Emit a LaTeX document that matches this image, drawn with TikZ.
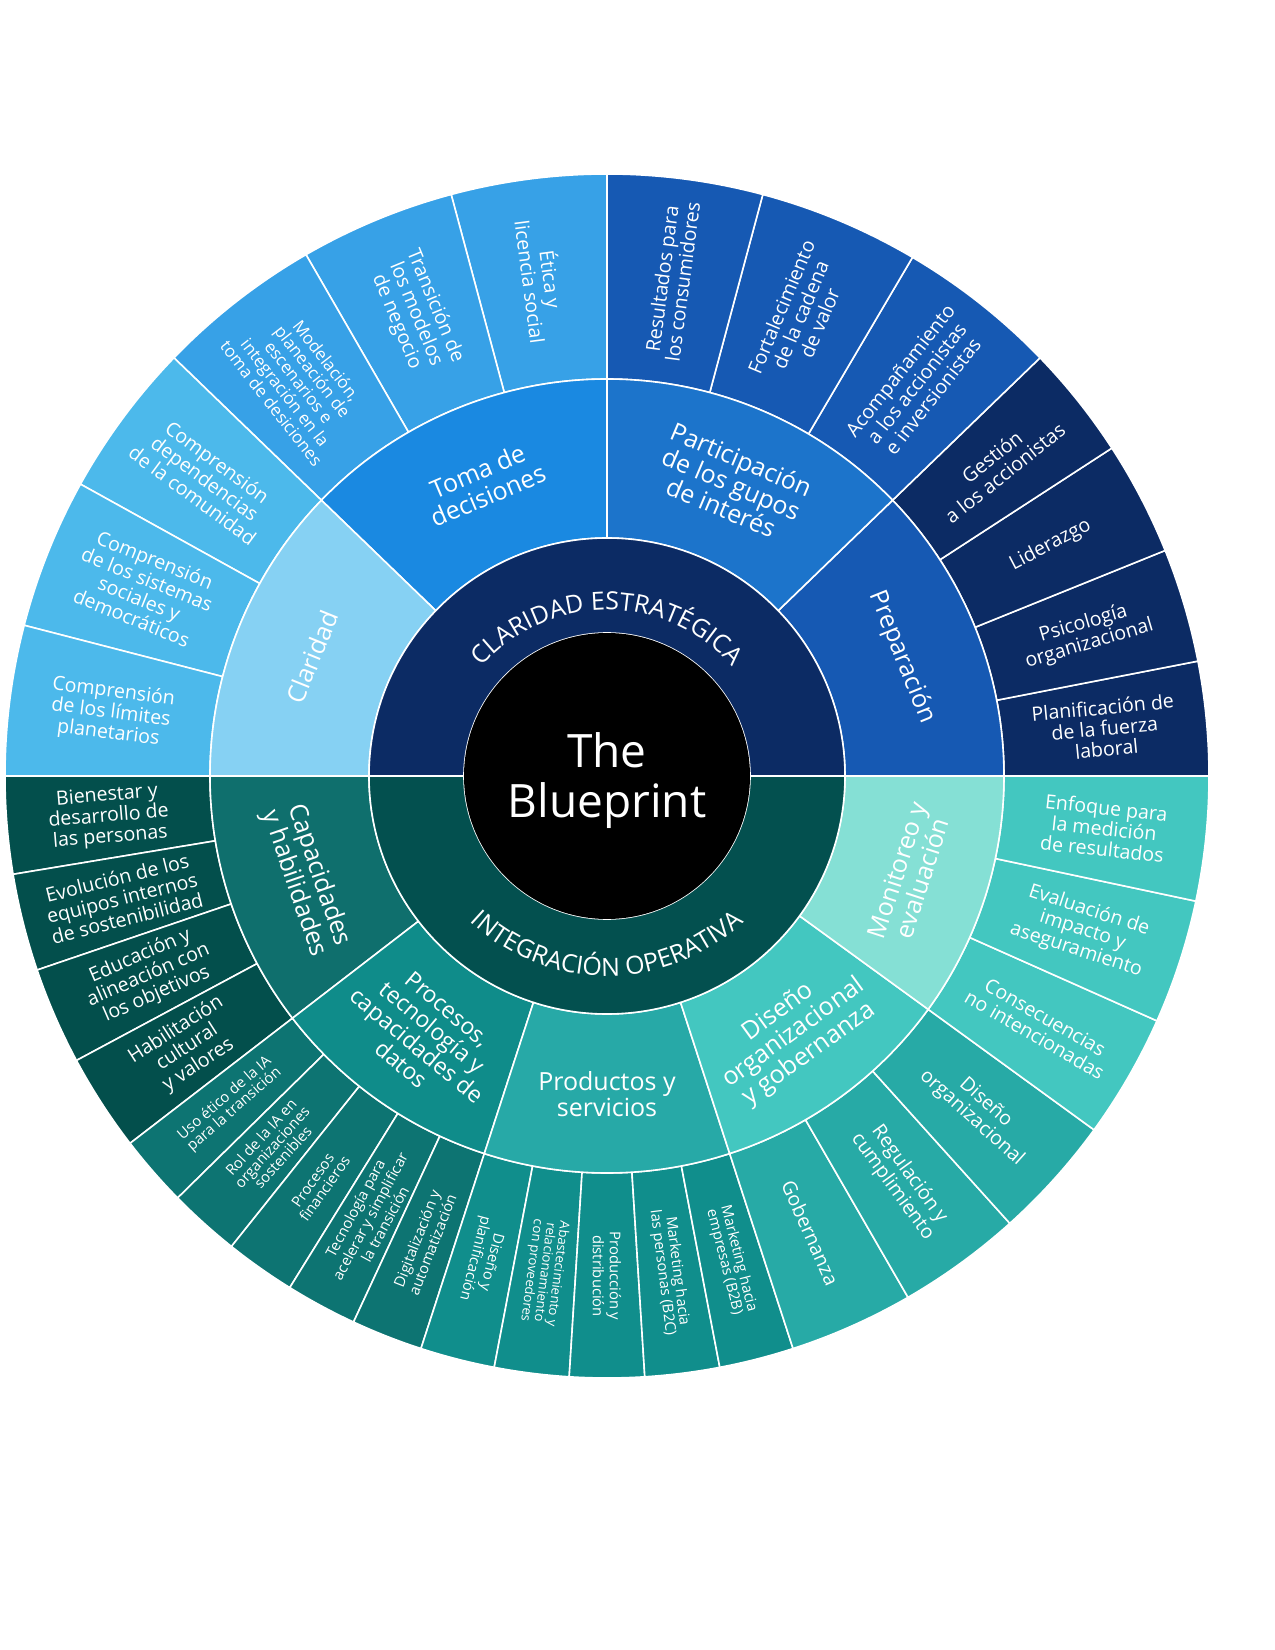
\documentclass[tikz,border=0pt]{standalone}
\usepackage{fontspec}
\setmainfont{Open Sans}
\usetikzlibrary{decorations.text}
\definecolor{navy}{HTML}{0C2B64}
\definecolor{tealdk}{HTML}{03504F}
\definecolor{clarL}{HTML}{86D1F3}\definecolor{clarC}{HTML}{4CB9EB}
\definecolor{tomaM}{HTML}{1A89E1}\definecolor{tomaC}{HTML}{37A1E7}
\definecolor{partM}{HTML}{1C74CB}\definecolor{partC}{HTML}{1659B3}
\definecolor{prepM}{HTML}{1659B3}\definecolor{prepC}{HTML}{0C2B64}
\definecolor{capM}{HTML}{0F6F6D}\definecolor{capC}{HTML}{034F4C}
\definecolor{procM}{HTML}{0F8C8A}\definecolor{procC}{HTML}{0D7472}
\definecolor{prodM}{HTML}{27A9A7}\definecolor{prodC}{HTML}{108E8C}
\definecolor{disM}{HTML}{43C7C0}\definecolor{disC}{HTML}{27AAA6}
\definecolor{monM}{HTML}{85E0D5}\definecolor{monC}{HTML}{43C7C0}
\newcommand\wedgeseg[5]{\fill[#1,draw=white,line width=0.8pt] (#2:#4) arc[start angle=#2,end angle=#3,radius=#4] -- (#3:#5) arc[start angle=#3,end angle=#2,radius=#5] -- cycle;}
\tikzset{
 lab/.style={text=white,align=center,inner sep=0pt},
 ot/.style={lab,font=\fontsize{9.8}{10.4}\selectfont},
 os/.style={lab,font=\fontsize{7.4}{7.4}\selectfont},
 mt/.style={lab,font=\fontsize{12.5}{13}\selectfont},
}
\begin{document}
\begin{tikzpicture}[x=0.5pt,y=0.5pt]
\useasboundingbox (-607,-874) rectangle (668,776);
\fill[white] (-607,-874) rectangle (668,776);
% outer ring
\foreach \a/\b in {0/11,11/22,22/33,33/44}{\wedgeseg{prepC}{\a}{\b}{397}{602}}
\foreach \a/\b in {44/59.5,59.5/75,75/90}{\wedgeseg{partC}{\a}{\b}{397}{602}}
\foreach \a/\b in {90/105,105/120,120/136}{\wedgeseg{tomaC}{\a}{\b}{397}{602}}
\foreach \a/\b in {136/151,151/165.5,165.5/180}{\wedgeseg{clarC}{\a}{\b}{397}{602}}
\foreach \a/\b in {180/189.4,189.4/198.8,198.8/208.2,208.2/217.6}{\wedgeseg{capC}{\a}{\b}{397}{602}}
\foreach \a/\b in {217.6/224.5,224.5/231.4,231.4/238.2,238.2/245.1,245.1/252}{\wedgeseg{procC}{\a}{\b}{397}{602}}
\foreach \a/\b in {252/259.2,259.2/266.4,266.4/273.6,273.6/280.8,280.8/288}{\wedgeseg{prodC}{\a}{\b}{397}{602}}
\foreach \a/\b in {288/300,300/312,312/324}{\wedgeseg{disC}{\a}{\b}{397}{602}}
\foreach \a/\b in {324/336,336/348,348/360}{\wedgeseg{monC}{\a}{\b}{397}{602}}
% middle ring
\wedgeseg{prepM}{0}{44}{238}{397}
\wedgeseg{partM}{44}{90}{238}{397}
\wedgeseg{tomaM}{90}{136}{238}{397}
\wedgeseg{clarL}{136}{180}{238}{397}
\wedgeseg{capM}{180}{217.6}{238}{397}
\wedgeseg{procM}{217.6}{252}{238}{397}
\wedgeseg{prodM}{252}{288}{238}{397}
\wedgeseg{disM}{288}{324}{238}{397}
\wedgeseg{monM}{324}{360}{238}{397}
% inner ring
\wedgeseg{navy}{0}{180}{143}{238}
\wedgeseg{tealdk}{180}{360}{143}{238}
\fill[black] (0,0) circle (143);
\node[lab,font=\fontsize{23}{25}\selectfont] (center) at (0,-5) {The\\Blueprint};
\path[decorate,decoration={text along path,text align=center,
 text={|\color{white}\fontsize{12.5}{12.5}\selectfont|CLARIDAD ESTRATÉGICA}}]
 (160:166) arc[start angle=160,end angle=20,radius=166];
\path[decorate,decoration={text along path,text align=center,
 text={|\color{white}\fontsize{12.5}{12.5}\selectfont|INTEGRACIÓN OPERATIVA}}]
 (200:200) arc[start angle=200,end angle=340,radius=200];
% middle labels
\node[mt,rotate=68] (m1) at (158:318) {Claridad};
\node[mt,rotate=23] (m2) at (113:318) {Toma de\\decisiones};
\node[mt,rotate=-23] (m3) at (67:318) {Participación\\de los gupos\\de interés};
\node[mt,rotate=-68] (m4) at (22:318) {Preparación};
\node[mt,rotate=-71] (m5) at (199:318) {Capacidades\\y habilidades};
\node[mt,rotate=-40,font=\fontsize{11.5}{12}\selectfont] (m6) at (235:318) {Procesos,\\tecnología y\\capacidades de\\datos};
\node[mt] (m7) at (270:318) {Productos y\\servicios};
\node[mt,rotate=36] (m8) at (306:318) {Diseño\\organizacional\\y gobernanza};
\node[mt,rotate=72] (m9) at (342:318) {Monitoreo y\\evaluación};
% outer labels
\node[ot,rotate=5.5] at (5.5:500) {Planificación de\\de la fuerza\\laboral};
\node[ot,rotate=16.5] at (16.5:500) {Psicología\\organizacional};
\node[ot,rotate=27.5] at (27.5:500) {Liderazgo};
\node[ot,rotate=38.5] at (38.5:500) {Gestión\\a los accionistas};
\node[ot,rotate=51.75] at (51.75:500) {Acompañamiento\\a los accionistas\\e inversionistas};
\node[ot,rotate=67.25] at (67.25:500) {Fortalecimiento\\de la cadena\\de valor};
\node[ot,rotate=82.5] at (82.5:500) {Resultados para\\los consumidores};
\node[ot,rotate=-82.5] at (97.5:500) {Ética y\\licencia social};
\node[ot,rotate=-67.5] at (112.5:500) {Transición de\\los modelos\\de negocio};
\node[ot,rotate=-52,font=\fontsize{8.5}{8.7}\selectfont] at (128:500) {Modelación,\\planeación de\\escenarios e\\integración en la\\toma de desiciones};
\node[ot,rotate=-36.5] at (143.5:500) {Comprensión\\dependencias\\de la comunidad};
\node[ot,rotate=-22] at (158:500) {Comprensión\\de los sistemas\\sociales y\\democráticos};
\node[ot,rotate=-7.25] at (172.75:500) {Comprensión\\de los límites\\planetarios};
\node[ot,rotate=4.7] at (184.7:500) {Bienestar y\\desarrollo de\\las personas};
\node[ot,rotate=14.1] at (194.1:500) {Evolución de los\\equipos internos\\de sostenibilidad};
\node[ot,rotate=23.5] at (203.5:500) {Educación y\\alineación con\\los objetivos};
\node[ot,rotate=32.9] at (212.9:500) {Habilitación\\cultural\\y valores};
\node[os,rotate=41] at (221:500) {Uso ético de la IA\\para la transición};
\node[os,rotate=47.9] at (227.9:500) {Rol de la IA en\\organizaciones\\sostenibles};
\node[os,rotate=54.8] at (234.8:500) {Procesos\\financieros};
\node[os,rotate=61.7] at (241.7:500) {Tecnología para\\acelerar y simplificar\\la transición};
\node[os,rotate=68.6] at (248.6:500) {Digitalización y\\automatización};
\node[os,rotate=255.6] at (255.6:500) {Diseño y\\planificación};
\node[os,rotate=262.8,font=\fontsize{6.6}{6.6}\selectfont] at (262.8:500) {Abastecimiento y\\relacionamiento\\con proveedores};
\node[os,rotate=270] at (270:500) {Producción y\\distribución};
\node[os,rotate=277.2] at (277.2:500) {Marketing hacia\\las personas (B2C)};
\node[os,rotate=284.4] at (284.4:500) {Marketing hacia\\empresas (B2B)};
\node[ot,rotate=294] at (294:500) {Gobernanza};
\node[ot,rotate=306] at (306:500) {Regulación y\\cumplimiento};
\node[ot,rotate=318] at (318:500) {Diseño\\organizacional};
\node[ot,rotate=330] at (330:500) {Consecuencias\\no intencionadas};
\node[ot,rotate=342] at (342:500) {Evaluación de\\impacto y\\aseguramiento};
\node[ot,rotate=354] at (354:500) {Enfoque para\\la medición\\de resultados};
\end{tikzpicture}
\end{document}
